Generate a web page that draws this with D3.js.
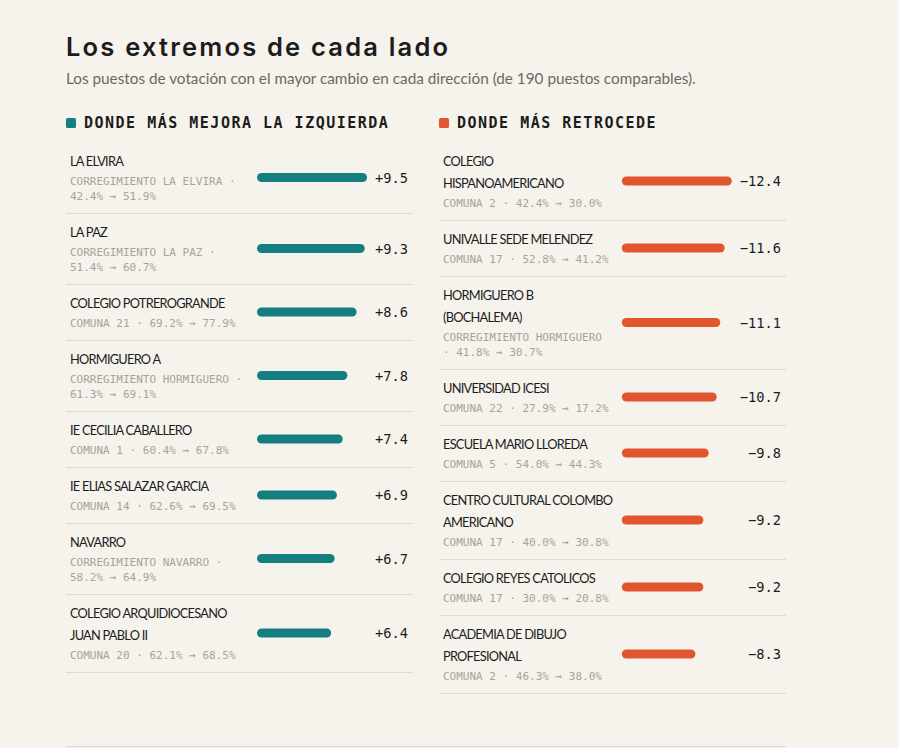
<!DOCTYPE html>
<html><head><meta charset="utf-8">
<script src="https://cdn.jsdelivr.net/npm/d3@7/dist/d3.min.js"></script>
<style>
html,body{margin:0;padding:0;background:#f6f3ec;}
svg{display:block;}
</style></head>
<body>
<script>
// ---- DATA ----
const leftNames = ["LA ELVIRA","LA PAZ","COLEGIO POTREROGRANDE","HORMIGUERO A","IE CECILIA CABALLERO","IE ELIAS SALAZAR GARCIA","NAVARRO","COLEGIO ARQUIDIOCESANO JUAN PABLO II"];
const leftGroups = ["CORREGIMIENTO LA ELVIRA","CORREGIMIENTO LA PAZ","COMUNA 21","CORREGIMIENTO HORMIGUERO","COMUNA 1","COMUNA 14","CORREGIMIENTO NAVARRO","COMUNA 20"];
const leftFrom = [42.4,51.4,69.2,61.3,60.4,62.6,58.2,62.1];
const leftTo   = [51.9,60.7,77.9,69.1,67.8,69.5,64.9,68.5];
const leftChange = [9.5,9.3,8.6,7.8,7.4,6.9,6.7,6.4];

const rightNames = ["COLEGIO HISPANOAMERICANO","UNIVALLE SEDE MELENDEZ","HORMIGUERO B (BOCHALEMA)","UNIVERSIDAD ICESI","ESCUELA MARIO LLOREDA","CENTRO CULTURAL COLOMBO AMERICANO","COLEGIO REYES CATOLICOS","ACADEMIA DE DIBUJO PROFESIONAL"];
const rightGroups = ["COMUNA 2","COMUNA 17","CORREGIMIENTO HORMIGUERO","COMUNA 22","COMUNA 5","COMUNA 17","COMUNA 17","COMUNA 2"];
const rightFrom = [42.4,52.8,41.8,27.9,54.0,40.0,30.0,46.3];
const rightTo   = [30.0,41.2,30.7,17.2,44.3,30.8,20.8,38.0];
const rightChange = [-12.4,-11.6,-11.1,-10.7,-9.8,-9.2,-9.2,-8.3];

const titleText = "Los extremos de cada lado";
const subtitleText = "Los puestos de votación con el mayor cambio en cada dirección (de 190 puestos comparables).";
const leftHeader = "DONDE MÁS MEJORA LA IZQUIERDA";
const rightHeader = "DONDE MÁS RETROCEDE";

// ---- STYLE ----
const W = 899, H = 748;
const BG = "#f6f3ec", TEAL = "#147e81", ORANGE = "#e2562f";
const INK = "#1c1c1c", GREY = "#a7a39c", RULE = "#dedad2";
const nameFont = "Lato, 'Open Sans', sans-serif";
const monoFont = "'DejaVu Sans Mono', 'Liberation Mono', monospace";
const NAME_SIZE = 12.8, NAME_LS = -0.75;

const svg = d3.select("body").append("svg").attr("width", W).attr("height", H);
svg.append("rect").attr("width", W).attr("height", H).attr("fill", BG);

svg.append("text").attr("x", 66).attr("y", 56).text(titleText)
  .attr("font-family", "Inter, sans-serif").attr("font-weight", 600)
  .attr("font-size", 25.5).attr("letter-spacing", 2.2).attr("fill", INK);
svg.append("text").attr("x", 66).attr("y", 84).text(subtitleText)
  .attr("font-family", nameFont).attr("font-size", 15.3).attr("fill", "#6d6962");

const measurer = svg.append("text").attr("visibility", "hidden");
function measure(str, font, size, ls) {
  measurer.attr("font-family", font).attr("font-size", size).attr("letter-spacing", ls || 0).text(str);
  return measurer.node().getComputedTextLength();
}
function wrap(str, font, size, ls, maxW) {
  const words = str.split(" ");
  const lines = []; let cur = "";
  words.forEach(w => {
    const t = cur ? cur + " " + w : w;
    if (cur && measure(t, font, size, ls) > maxW) { lines.push(cur); cur = w; }
    else cur = t;
  });
  if (cur) lines.push(cur);
  return lines;
}

function panel(x0, header, color, names, groups, from, to, change) {
  const pw = 347, pad = 4, barMax = 110, top0 = 142;
  const g = svg.append("g");
  g.append("rect").attr("x", x0).attr("y", 118).attr("width", 10).attr("height", 10).attr("rx", 1.5).attr("fill", color);
  g.append("text").attr("x", x0 + 18).attr("y", 128.3).text(header)
    .attr("font-family", monoFont).attr("font-weight", "bold").attr("font-size", 15)
    .attr("letter-spacing", 1.5).attr("fill", INK);

  const fmt = d3.format("+.1f");
  const valW = d3.max(change, c => measure(fmt(c), monoFont, 13.7, 0));
  const barX = x0 + pw - 5 - valW - 8 - barMax;
  const labelX = x0 + pad;
  const labelW = barX - 10 - labelX;
  const xs = d3.scaleLinear().domain([0, d3.max(change, c => Math.abs(c))]).range([0, barMax]);

  let y = top0;
  names.forEach((n, i) => {
    const nl = wrap(n, nameFont, NAME_SIZE, NAME_LS, labelW + 1.5);
    const detail = `${groups[i]} · ${from[i].toFixed(1)}% → ${to[i].toFixed(1)}%`;
    const dl = wrap(detail, monoFont, 11, 0, labelW);
    const h = 19 + 22 * (nl.length - 1) + 20 + 15 * (dl.length - 1) + 17;
    const row = g.append("g");
    nl.forEach((l, k) => row.append("text").attr("x", labelX).attr("y", y + 19 + 22 * k + 4.8).text(l)
      .attr("font-family", nameFont).attr("font-size", NAME_SIZE).attr("letter-spacing", NAME_LS).attr("fill", INK));
    const dy0 = y + 19 + 22 * (nl.length - 1) + 20;
    dl.forEach((l, k) => row.append("text").attr("x", labelX).attr("y", dy0 + 15 * k + 4).text(l)
      .attr("font-family", monoFont).attr("font-size", 11).attr("fill", GREY));
    const cy = y + h / 2;
    row.append("rect").attr("x", barX).attr("y", cy - 4.5).attr("width", xs(Math.abs(change[i]))).attr("height", 9)
      .attr("rx", 4.5).attr("fill", color);
    row.append("text").attr("x", x0 + pw - 5).attr("y", cy + 5).attr("text-anchor", "end").text(fmt(change[i]))
      .attr("font-family", monoFont).attr("font-size", 13.7).attr("fill", INK);
    y += h;
    row.append("line").attr("x1", x0).attr("x2", x0 + pw).attr("y1", y + 0.5).attr("y2", y + 0.5)
      .attr("stroke", RULE).attr("stroke-width", 1);
  });
}

panel(66, leftHeader, TEAL, leftNames, leftGroups, leftFrom, leftTo, leftChange);
panel(439, rightHeader, ORANGE, rightNames, rightGroups, rightFrom, rightTo, rightChange);

svg.append("line").attr("x1", 66).attr("x2", 786).attr("y1", 746.5).attr("y2", 746.5)
  .attr("stroke", RULE).attr("stroke-width", 1);
measurer.remove();
</script>
</body></html>
